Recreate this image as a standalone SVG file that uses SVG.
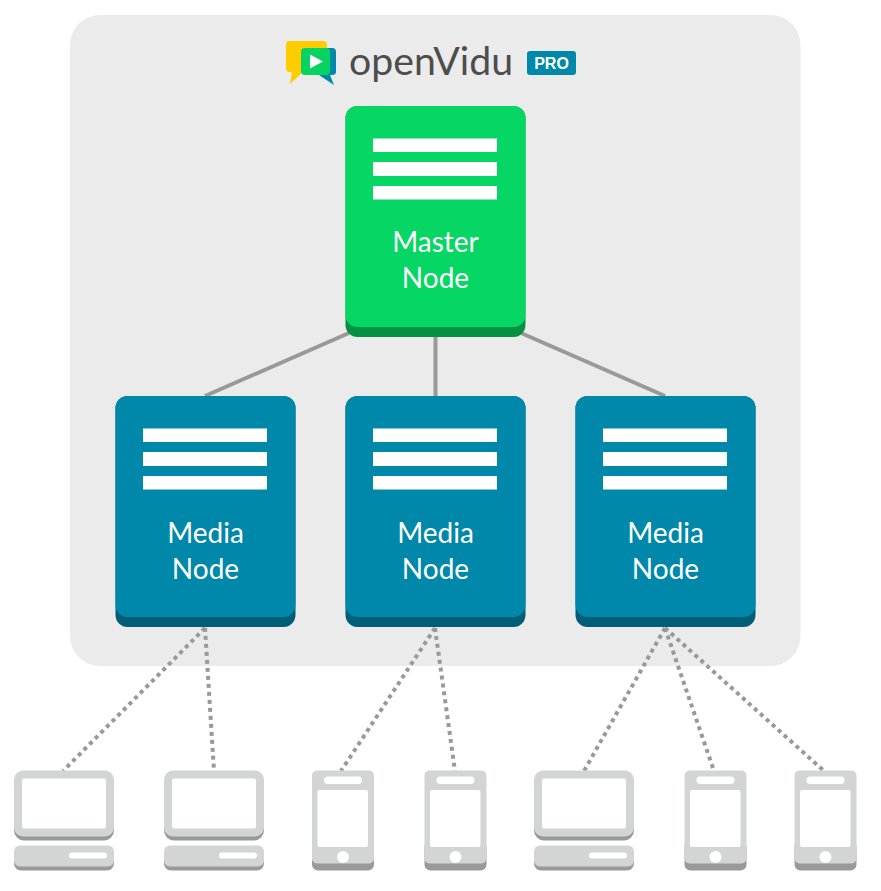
<svg xmlns="http://www.w3.org/2000/svg" width="881" height="891" viewBox="0 0 881 891">
<style>
.lbl{font-family:"Lato","Liberation Sans",sans-serif;font-size:28px;fill:#fff;text-anchor:middle}
.bar{fill:#fff}
.solid{stroke:#999;stroke-width:4;fill:none}
.dot{stroke:#999;stroke-width:4;stroke-dasharray:4 4;fill:none}
.dev{fill:#d3d5d5}.shade{fill:#999}.w{fill:#fff}
</style>
<defs>
<g id="bars"><rect class="bar" x="27.5" y="32.5" width="124" height="13.5"/><rect class="bar" x="27.5" y="56" width="124" height="14"/><rect class="bar" x="27.5" y="80" width="124" height="13.5"/></g>
<g id="laptop"><rect class="shade" x="0" y="10" width="100" height="60" rx="10"/><rect class="dev" x="0" y="0" width="100" height="66" rx="9"/><rect class="w" x="8" y="8" width="84" height="50" rx="2"/><rect class="shade" x="0" y="80" width="100" height="20" rx="7"/><rect class="dev" x="0" y="75" width="100" height="21" rx="6"/><rect class="w" x="55" y="82" width="38" height="6" rx="3"/></g>
<g id="phone"><rect class="shade" x="0" y="70" width="62" height="30" rx="6"/><rect class="dev" x="0" y="0" width="62" height="93" rx="5"/><rect class="w" x="12" y="6" width="38" height="7.5" rx="3.7"/><rect class="w" x="5.5" y="19.5" width="50.5" height="57" rx="2"/><circle class="w" cx="31" cy="86.5" r="6"/></g>
</defs>
<rect x="70" y="15" width="730.5" height="651" rx="30" fill="#ebebeb"/>
<g id="logo">
<path d="M289 41H323Q327 41 327 45V68Q327 72 323 72H303L290 84L292 72H289Q286 72 286 68V45Q286 41 289 41Z" fill="#ffcc00"/>
<path d="M312 48H332Q336 48 336 52V72Q336 75 332 75H330L334 85L319 75H312Z" fill="#0088aa"/>
<rect x="301" y="48" width="29" height="27" rx="4" fill="#06d362"/>
<path d="M310 54.500L323 61.500L310 68.500Z" fill="#fff"/>
<text x="349" y="75" font-family="Lato,'Liberation Sans',sans-serif" font-size="38" fill="#4d4d4d" textLength="164" lengthAdjust="spacingAndGlyphs">openVidu</text>
<rect x="527" y="51" width="49" height="24" rx="3" fill="#0088aa"/>
<text x="551.500" y="69" font-family="'Liberation Sans',sans-serif" font-weight="700" font-size="16" fill="#fff" text-anchor="middle">PRO</text>
</g>
<g id="connectors">
<path class="solid" d="M349 333L205 396M435.500 337V396M521 333L665 396"/>
<path class="dot" d="M205 628L63 771M205 628L214 771M435 628L341 771M435 628L455 771M665 628L584 771M665 628L714 771M665 628L824 771"/>
</g>
<g id="master" transform="translate(345.500 106)"><rect width="180" height="231" rx="12" fill="#049142"/><rect width="180" height="221" rx="12" fill="#06d664"/><use href="#bars"/><text class="lbl" x="90" y="146">Master</text><text class="lbl" x="90" y="182">Node</text></g>
<g id="media1" transform="translate(115.500 396)"><rect width="180" height="231" rx="12" fill="#005e78"/><rect width="180" height="221" rx="12" fill="#0088aa"/><use href="#bars"/><text class="lbl" x="90" y="147">Media</text><text class="lbl" x="90" y="183">Node</text></g>
<g id="media2" transform="translate(345.500 396)"><rect width="180" height="231" rx="12" fill="#005e78"/><rect width="180" height="221" rx="12" fill="#0088aa"/><use href="#bars"/><text class="lbl" x="90" y="147">Media</text><text class="lbl" x="90" y="183">Node</text></g>
<g id="media3" transform="translate(575.500 396)"><rect width="180" height="231" rx="12" fill="#005e78"/><rect width="180" height="221" rx="12" fill="#0088aa"/><use href="#bars"/><text class="lbl" x="90" y="147">Media</text><text class="lbl" x="90" y="183">Node</text></g>
<g id="laptop1"><use href="#laptop" x="14" y="770.500"/></g>
<g id="laptop2"><use href="#laptop" x="164" y="770.500"/></g>
<g id="phone1"><use href="#phone" x="312" y="770.500"/></g>
<g id="phone2"><use href="#phone" x="424.500" y="770.500"/></g>
<g id="laptop3"><use href="#laptop" x="534" y="770.500"/></g>
<g id="phone3"><use href="#phone" x="684.500" y="770.500"/></g>
<g id="phone4"><use href="#phone" x="794.500" y="770.500"/></g>
</svg>
